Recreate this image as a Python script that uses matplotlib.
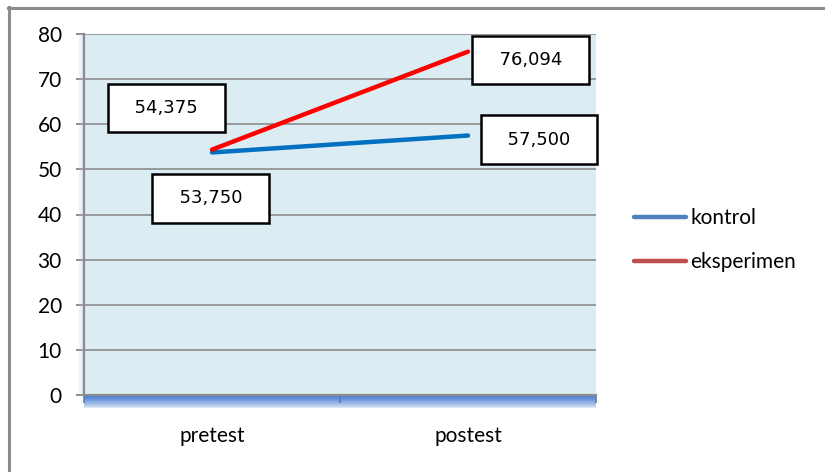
import numpy as np
import matplotlib
matplotlib.use("Agg")
from matplotlib import pyplot as plt
from matplotlib.lines import Line2D
from matplotlib.patches import Rectangle

CATEGORIES = ["pretest", "postest"]
KONTROL = [53.750, 57.500]
EKSPERIMEN = [54.375, 76.094]
KONTROL_LABELS = ["53,750", "57,500"]
EKSPERIMEN_LABELS = ["54,375", "76,094"]
SERIES = ["kontrol", "eksperimen"]
Y_TICKS = [0, 10, 20, 30, 40, 50, 60, 70, 80]

TICK_FONT = "Lato"
BOX_FONT = "DejaVu Sans"

fig = plt.figure(figsize=(8.25, 4.72), dpi=100)
fig.patch.set_facecolor("white")

# outer chart frame (only left and top visible)
fig.add_artist(Line2D([8.5 / 825, 8.5 / 825], [0, 1 - 7 / 472], color="#8c8c8c", lw=2.2))
fig.add_artist(Line2D([8 / 825, 1], [1 - 7.5 / 472, 1 - 7.5 / 472], color="#8c8c8c", lw=2.2))

ax = fig.add_axes([84 / 825, 1 - 395 / 472, (596 - 84) / 825, (395 - 34) / 472])
ax.set_facecolor("#dbedf3")

x = np.arange(len(CATEGORIES))
ax.set_xlim(-0.5, len(CATEGORIES) - 0.5)
ax.set_ylim(0, 80)

ax.plot(x, KONTROL, color="#0070c0", lw=3.2, solid_capstyle="round", zorder=3)
ax.plot(x, EKSPERIMEN, color="#ff0000", lw=3.2, solid_capstyle="round", zorder=3)

box = dict(boxstyle="square,pad=0.85", fc="white", ec="black", lw=1.8)
offsets_e = [(-33, 30), (45, -6)]
offsets_k = [(-1, -33), (51, -3)]
for xi, v, lab, off in zip(x, EKSPERIMEN, EKSPERIMEN_LABELS, offsets_e):
    ax.annotate("  " + lab + "  ", (xi, v), xytext=off, textcoords="offset points",
                ha="center", va="center", fontsize=13, fontfamily=BOX_FONT,
                bbox=box, zorder=5, annotation_clip=False)
for xi, v, lab, off in zip(x, KONTROL, KONTROL_LABELS, offsets_k):
    ax.annotate("  " + lab + "  ", (xi, v), xytext=off, textcoords="offset points",
                ha="center", va="center", fontsize=13, fontfamily=BOX_FONT,
                bbox=box, zorder=5, annotation_clip=False)

# gridlines
ax.set_yticks(Y_TICKS)
ax.grid(axis="y", color="#8c8c8c", lw=1.2)
ax.set_axisbelow(True)

for s in ["top", "right"]:
    ax.spines[s].set_visible(False)
ax.spines["left"].set_color("#8c8c8c")
ax.spines["left"].set_linewidth(1.6)
ax.spines["bottom"].set_color("#8c8c8c")
ax.spines["bottom"].set_linewidth(1.6)

ax.tick_params(axis="y", length=6, width=1.4, color="#8c8c8c", pad=10,
               labelsize=15)
ax.set_yticklabels([str(t) for t in Y_TICKS], family=TICK_FONT)

# category labels centred, tick marks at category boundaries
ax.set_xticks(np.arange(len(CATEGORIES) + 1) - 0.5)
ax.set_xticklabels([])
ax.tick_params(axis="x", length=6, width=1.4, color="#8c8c8c", direction="out")
ax.set_xticks(x, minor=True)
ax.set_xticklabels(CATEGORIES, minor=True, family=TICK_FONT)
ax.tick_params(axis="x", which="minor", length=0, pad=22, labelsize=15)

# floor shadow below the x axis
n = 14
for i in range(n):
    a = (1 - i / n) ** 0.6
    ax.add_patch(Rectangle((0, -0.003 - i * 0.0025), 1, 0.0027, transform=ax.transAxes,
                           fc="#4a80d4", ec="none", alpha=a, clip_on=False, zorder=1))
for i in range(5):
    ax.add_patch(Rectangle((-0.003 - i * 0.002, 0), 0.002, 1, transform=ax.transAxes,
                           fc="#a8c0e8", ec="none", alpha=0.35 * (1 - i / 5),
                           clip_on=False, zorder=1))

handles = [Line2D([], [], color="#4f81bd", lw=3.2, solid_capstyle="round"),
           Line2D([], [], color="#c0504d", lw=3.2, solid_capstyle="round")]
fig.legend(handles, SERIES, loc="center left", bbox_to_anchor=(615 / 825, 1 - 240 / 472),
           frameon=False, prop={"family": TICK_FONT, "size": 15},
           handlelength=2.5, handletextpad=0.2, labelspacing=1.15)

fig.savefig("out.png", dpi=100)
